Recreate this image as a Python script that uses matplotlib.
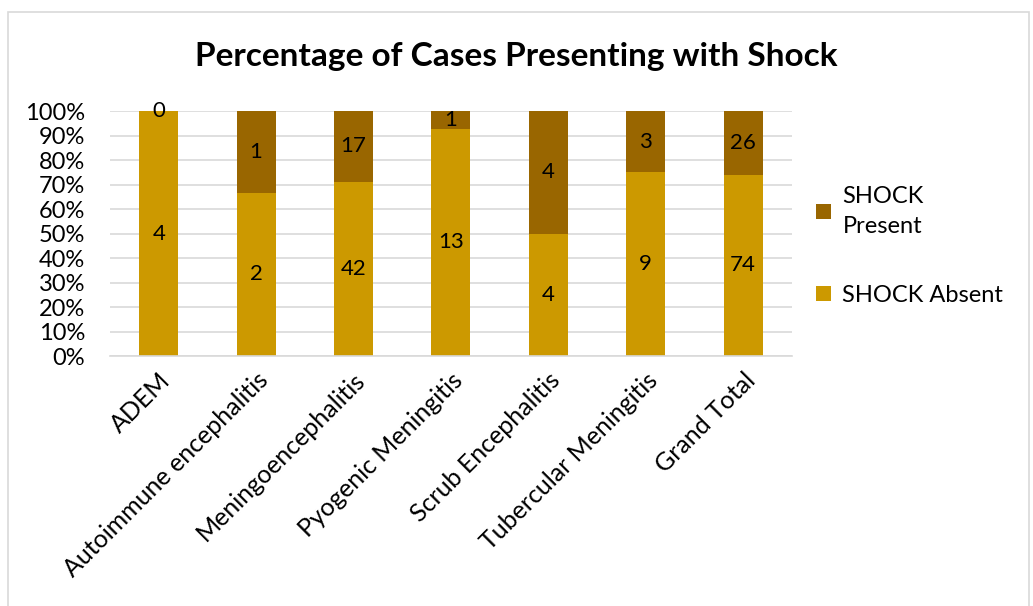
import numpy as np
import matplotlib.pyplot as plt
from matplotlib.patches import Rectangle

categories = ['ADEM', 'Autoimmune encephalitis', 'Meningoencephalitis',
              'Pyogenic Meningitis', 'Scrub Encephalitis', 'Tubercular Meningitis',
              'Grand Total']
shock_absent = [4, 2, 42, 13, 4, 9, 74]
shock_present = [0, 1, 17, 1, 4, 3, 26]

c_absent = '#CC9900'
c_present = '#996600'

plt.rcParams['font.family'] = ['Lato', 'DejaVu Sans']

absent = np.array(shock_absent, dtype=float)
present = np.array(shock_present, dtype=float)
total = absent + present
p_abs = absent / total * 100
p_pre = present / total * 100

fig = plt.figure(figsize=(10.33, 6.06), dpi=100)
fig.patches.append(Rectangle((8 / 1033, -0.1), 1021 / 1033, 1.1 - 12 / 606,
                             transform=fig.transFigure, fill=False,
                             edgecolor='#D9D9D9', lw=1.2))
ax = fig.add_axes([0.1065, 0.4125, 0.66, 0.4043])

x = np.arange(len(categories))
b1 = ax.bar(x, p_abs, width=0.4, color=c_absent, label='SHOCK Absent', zorder=2)
b2 = ax.bar(x, p_pre, width=0.4, bottom=p_abs, color=c_present,
            label='SHOCK\nPresent', zorder=2)

fs = 16
for i in range(len(x)):
    ax.text(x[i], p_abs[i] / 2, str(shock_absent[i]), ha='center', va='center',
            fontsize=fs)
    if p_pre[i] > 0:
        ax.text(x[i], p_abs[i] + p_pre[i] / 2, str(shock_present[i]),
                ha='center', va='center', fontsize=fs)
    else:
        ax.text(x[i], 100, str(shock_present[i]), ha='center', va='center',
                fontsize=fs)

ax.set_xlim(-0.5, len(categories) - 0.5)
ax.set_ylim(0, 100)
ax.set_yticks(np.arange(0, 101, 10))
ax.set_yticklabels([f'{v}%' for v in range(0, 101, 10)], fontsize=17)
ax.set_xticks(x)
ax.set_xticklabels(categories, rotation=45, ha='right', rotation_mode='anchor',
                   fontsize=18)
ax.tick_params(axis='x', length=0, pad=9)
ax.tick_params(axis='y', length=0, pad=18)
ax.yaxis.grid(True, color='#D9D9D9', lw=1.2, zorder=0)
ax.set_axisbelow(True)
for s in ['top', 'right', 'left']:
    ax.spines[s].set_visible(False)
ax.spines['bottom'].set_color('#D9D9D9')
ax.spines['bottom'].set_linewidth(1.2)

handles = [b2, b1]
leg = ax.legend(handles, ['SHOCK\nPresent', 'SHOCK Absent'], loc='center left',
                bbox_to_anchor=(1.005, 0.45), frameon=False, fontsize=17,
                handlelength=0.6, handleheight=0.6, handletextpad=0.5,
                labelspacing=2.0)
for t in leg.get_texts():
    t.set_linespacing(1.55)

fig.text(0.5, 0.906, 'Percentage of Cases Presenting with Shock',
         ha='center', va='center', fontsize=24, fontweight='bold')

fig.savefig('out.png', dpi=100)
